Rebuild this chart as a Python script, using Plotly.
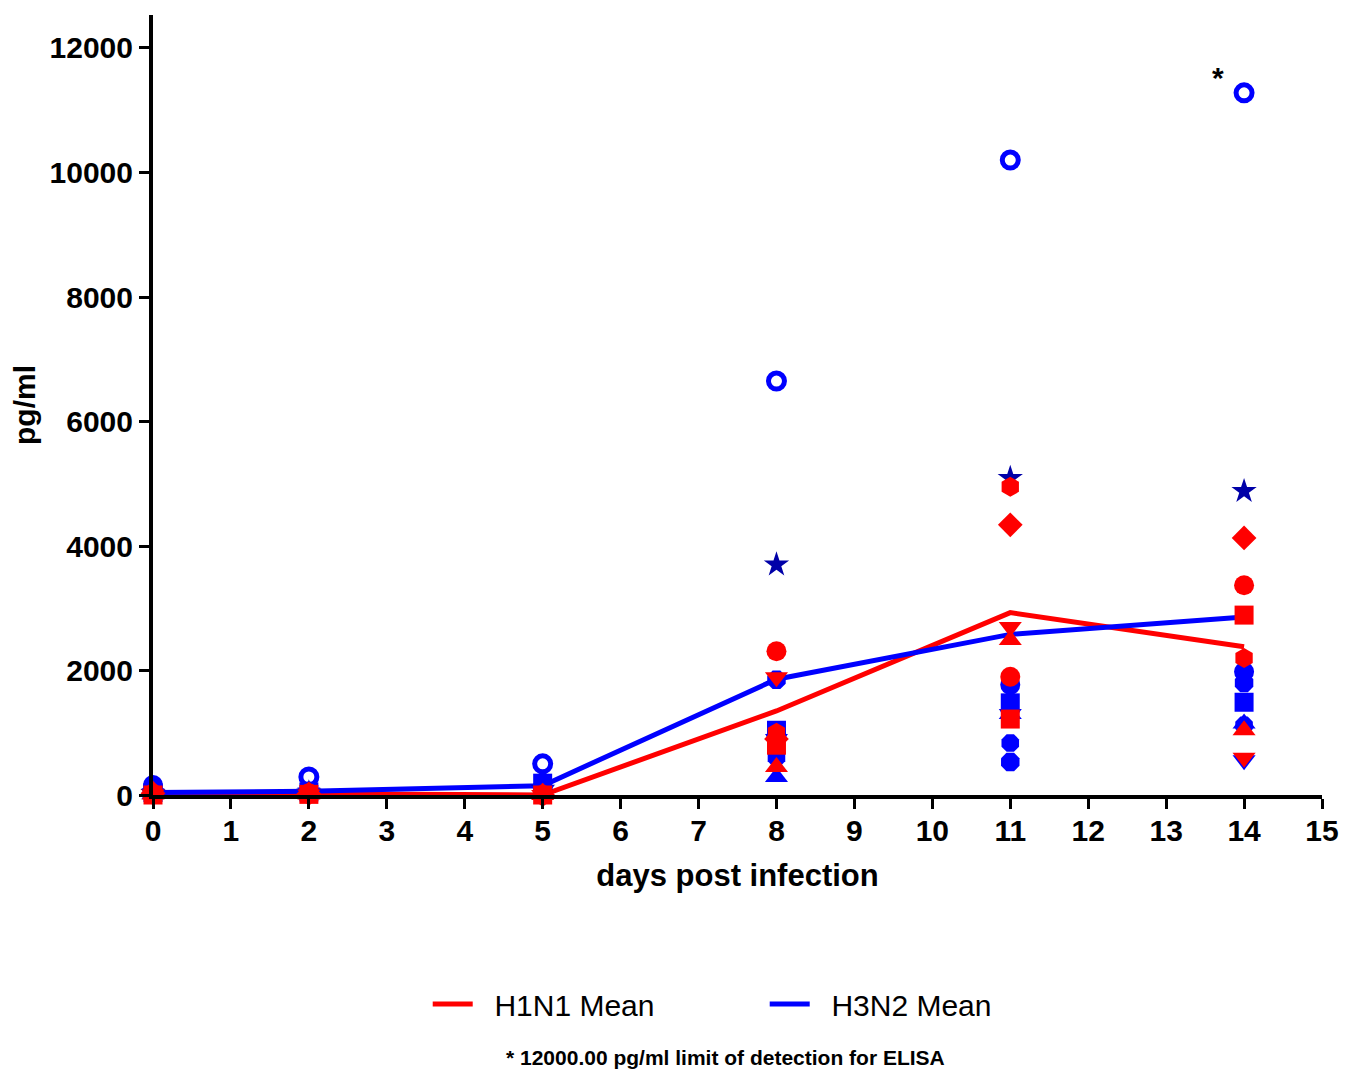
import plotly.graph_objects as go

days = [0, 2, 5, 8, 11, 14]

# H1N1 individual animals (red)
h1n1_circle = [20, 30, 0, 2310, 1900, 3370]
h1n1_square = [0, 10, 0, 800, 1220, 2890]
h1n1_tri_up = [10, 10, 0, 450, 2490, 1040]
h1n1_tri_down = [10, 10, 0, 1890, 2700, 600]
h1n1_diamond = [30, 20, 0, 900, 4340, 4130]
h1n1_hexagon = [20, 20, 0, 1000, 4950, 2200]

# H3N2 individual animals (blue)
h3n2_circle_open = [60, 290, 500, 6650, 10200, 11280]
h3n2_star = [30, 40, 100, 3700, 5090, 4880]
h3n2_circle = [160, 60, 120, 950, 1770, 1980]
h3n2_square = [40, 50, 190, 1040, 1480, 1490]
h3n2_diamond = [50, 40, 80, 600, 835, 1120]
h3n2_tri_up = [20, 30, 60, 290, 1300, 1150]
h3n2_tri_down = [30, 40, 70, 900, 1300, 560]
h3n2_octagon = [40, 50, 90, 1850, 530, 1800]

# Means
h1n1_mean = [30, 20, 0, 1350, 2930, 2380]
h3n2_mean = [40, 60, 150, 1860, 2580, 2860]

x_ticks = list(range(0, 16))
y_ticks = [0, 2000, 4000, 6000, 8000, 10000, 12000]

RED = "#FF0000"
BLUE = "#0000FF"
NAVY = "#0000A8"

fig = go.Figure()

fig.add_trace(go.Scatter(x=days, y=h1n1_mean, mode="lines", name="\u00a0\u00a0H1N1 Mean",
                         line=dict(color=RED, width=5), cliponaxis=False))
fig.add_trace(go.Scatter(x=days, y=h3n2_mean, mode="lines", name="\u00a0\u00a0H3N2 Mean",
                         line=dict(color=BLUE, width=5), cliponaxis=False))

blue_sets = [
    (h3n2_circle_open, "circle-open", 16, BLUE),
    (h3n2_star, "star", 19, NAVY),
    (h3n2_circle, "circle", 20, BLUE),
    (h3n2_square, "square", 19, BLUE),
    (h3n2_diamond, "octagon", 19, BLUE),
    (h3n2_tri_up, "triangle-up", 20, BLUE),
    (h3n2_tri_down, "triangle-down", 20, BLUE),
    (h3n2_octagon, "octagon", 20, BLUE),
]
for vals, sym, size, col in blue_sets:
    marker = dict(symbol=sym, size=size, color=col)
    if sym.endswith("open"):
        marker["line"] = dict(color=col, width=5)
    else:
        marker["line"] = dict(width=0)
    fig.add_trace(go.Scatter(x=days, y=vals, mode="markers", marker=marker,
                             showlegend=False, cliponaxis=False, hoverinfo="x+y"))

red_sets = [
    (h1n1_circle, "circle", 20),
    (h1n1_square, "square", 19),
    (h1n1_tri_up, "triangle-up", 20),
    (h1n1_tri_down, "triangle-down", 20),
    (h1n1_diamond, "diamond", 19),
    (h1n1_hexagon, "hexagon", 20),
]
for vals, sym, size in red_sets:
    fig.add_trace(go.Scatter(x=days, y=vals, mode="markers",
                             marker=dict(symbol=sym, size=size, color=RED, line=dict(width=0)),
                             showlegend=False, cliponaxis=False, hoverinfo="x+y"))

font_family = "Liberation Sans, Arial, sans-serif"

fig.update_layout(
    width=1348, height=1064,
    margin=dict(l=145, r=34, t=7, b=277),
    paper_bgcolor="white", plot_bgcolor="white",
    font=dict(family=font_family, color="black"),
    showlegend=True,
    legend=dict(orientation="h", x=0.235, y=-0.268, xanchor="left", yanchor="middle",
                font=dict(size=30, family=font_family, color="black"),
                entrywidth=282, entrywidthmode="pixels", itemwidth=40,
                bgcolor="rgba(0,0,0,0)"),
    xaxis=dict(range=[0, 15], tickvals=x_ticks, ticktext=[str(v) for v in x_ticks],
               automargin=False,
               showgrid=False, zeroline=False, showline=True, linecolor="black", linewidth=4,
               ticks="outside", ticklen=10, tickwidth=3, tickcolor="black",
               ticklabelstandoff=-4,
               tickfont=dict(size=30, family=font_family, weight="bold", color="black"),
               title=dict(text="days post infection", standoff=19,
                          font=dict(size=31, family=font_family, weight="bold", color="black"))),
    yaxis=dict(range=[0, 12530], tickvals=y_ticks, ticktext=[str(v) for v in y_ticks],
               automargin=False,
               showgrid=False, zeroline=False, showline=True, linecolor="black", linewidth=4,
               ticks="outside", ticklen=10, tickwidth=3, tickcolor="black",
               tickfont=dict(size=30, family=font_family, weight="bold", color="black"),
               title=dict(text="pg/ml", standoff=8,
                          font=dict(size=30, family=font_family, weight="bold", color="black"))),
    annotations=[
        dict(x=13.67, y=11534, xref="x", yref="y", text="*", showarrow=False,
             font=dict(size=30, family=font_family, weight="bold", color="black")),
        dict(x=0.49, y=-0.336, xref="paper", yref="paper", text="* 12000.00 pg/ml limit of detection for ELISA",
             showarrow=False, xanchor="center", yanchor="middle",
             font=dict(size=21, family=font_family, weight="bold", color="black")),
    ],
)

fig.write_html("out.html")
